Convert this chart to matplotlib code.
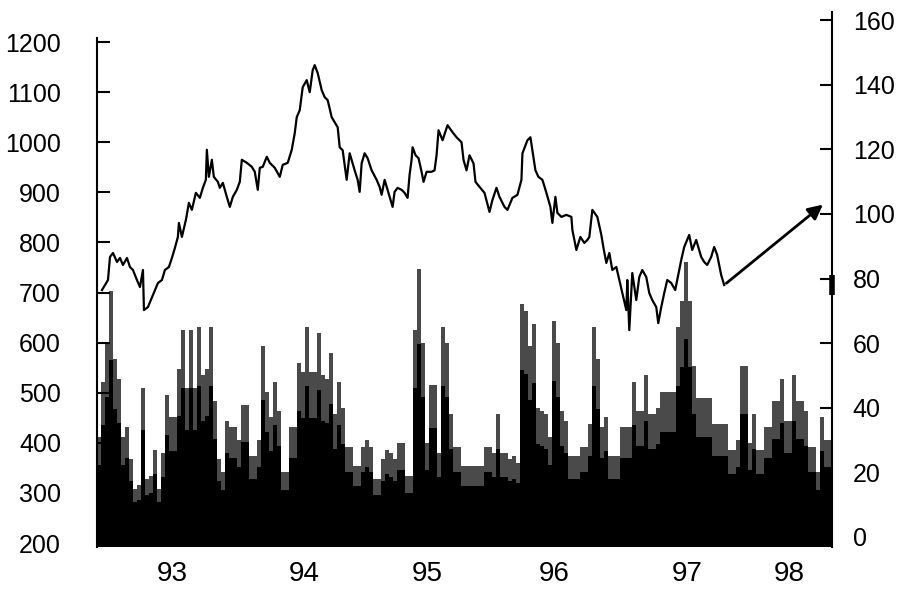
import numpy as np
import matplotlib
matplotlib.use("Agg")
import matplotlib.pyplot as plt

# x is an observation index (one step = one bar); year labels sit at these positions
year_labels = ["93", "94", "95", "96", "97", "98"]
year_pos = [18.75, 52, 82.75, 114.5, 147.75, 173.25]

# index level (left axis)
line_obs = [1.25, 2.75, 3.25, 4, 5, 5.75, 6.5, 7.5, 8.25, 9, 10, 10.75, 11.5, 11.75, 12.75,
            14, 15.25, 16.25, 17, 18, 18.75, 19.5, 20.25, 20.5, 21.25, 22.25, 23, 23.75, 24.75,
            25.75, 26.5, 27.25, 27.5, 28, 28.75, 29.25, 30.25, 30.75, 31.5, 32.5, 33.25, 34, 35,
            35.75, 36.25, 37.5, 38.75, 39.5, 40.25, 40.75, 41.5, 42.5, 43.25, 44.5, 45.75, 46.5,
            47.75, 48.75, 49.5, 50, 50.75, 51.5, 52.5, 53.25, 54, 54.5, 55.25, 56.25, 57, 57.75,
            58.75, 59.5, 60.25, 60.75, 61.5, 62.5, 63.25, 64.5, 65.25, 65.75, 66.25, 67, 67.75,
            68.75, 70, 70.75, 71.25, 72, 72.75, 74, 74.5, 75.25, 76.25, 77, 77.75, 78.25, 78.75,
            79, 79.75, 80.5, 81.25, 81.75, 82.5, 83.75, 84.5, 85, 85.5, 86.5, 87.75, 89, 90,
            91.25, 91.75, 92.5, 93.25, 94.25, 94.75, 95.75, 97, 98.25, 99, 100, 100.75, 102,
            102.75, 104, 105.25, 106.25, 106.5, 107.75, 108.5, 109, 109.75, 110.5, 111.5, 112.5,
            113.5, 114, 114.75, 115.25, 116.25, 117.5, 118.75, 119, 120, 121, 122, 122.75,
            123.25, 124, 125.25, 126.25, 126.75, 127.5, 128.25, 129, 130, 130.75, 131.5, 132.5,
            132.75, 133.25, 134, 135, 135.75, 136.5, 137.5, 138.25, 139, 140, 140.5, 141.25, 142,
            142.75, 143.75, 144.75, 145.25, 146.25, 147, 148.25, 149, 150, 151.25, 152, 152.75,
            153.75, 154.5, 155.25, 156.25, 157]
line_val = [705, 725, 771, 779, 761, 769, 755, 769, 751, 745, 725, 711, 745, 665, 671,
            695, 719, 725, 745, 751, 769, 789, 811, 839, 811, 845, 879, 865, 899,
            889, 909, 925, 985, 931, 965, 931, 921, 909, 919, 891, 871, 891, 905,
            921, 965, 959, 951, 941, 905, 949, 951, 971, 959, 949, 931, 955,
            959, 985, 1018, 1050, 1064, 1110, 1124, 1100, 1144, 1154, 1138, 1104, 1090, 1084,
            1050, 1040, 1030, 990, 984, 925, 978, 944, 925, 901, 958, 978, 968,
            944, 925, 911, 895, 925, 905, 871, 901, 909, 905, 899, 889, 935, 965,
            990, 974, 968, 941, 921, 941, 941, 944, 974, 1024, 1004, 1034, 1020, 1010,
            1000, 965, 944, 974, 958, 921, 911, 899, 861, 885, 909, 891, 871,
            865, 889, 895, 925, 978, 1004, 1010, 984, 944, 931, 925, 899,
            871, 839, 891, 859, 851, 855, 851, 825, 785, 811, 799, 805,
            811, 865, 851, 815, 791, 759, 779, 745, 751, 725, 699, 665,
            725, 625, 739, 685, 731, 745, 731, 699, 685, 671, 639, 671, 699,
            725, 719, 705, 725, 765, 791, 815, 785, 805, 771, 761, 755,
            771, 791, 775, 735, 715]

# projected level at the arrow tip
target_obs = 182.25
target_val = 879

# volume (right axis), one value per observation
volume = [31, 48, 60, 76, 55, 49, 31, 34, 24, 15, 16, 46, 18, 19, 27, 15, 26, 44, 37, 37,
          52, 64, 46, 64, 46, 65, 50, 52, 65, 42, 24, 20, 36, 34, 34, 30, 41, 41, 25, 25,
          30, 59, 45, 37, 48, 39, 20, 20, 34, 34, 54, 51, 65, 51, 51, 63, 50, 49, 57, 38,
          48, 40, 28, 28, 22, 22, 28, 30, 28, 18, 18, 24, 27, 26, 24, 29, 29, 19, 19, 64,
          83, 60, 29, 47, 47, 26, 65, 60, 38, 28, 28, 22, 22, 22, 22, 22, 22, 28, 28, 26,
          38, 26, 26, 24, 25, 23, 72, 70, 59, 66, 40, 39, 38, 31, 67, 60, 39, 36, 25, 25,
          25, 28, 28, 35, 65, 55, 34, 37, 25, 25, 25, 34, 34, 34, 48, 39, 39, 50, 38, 38,
          40, 45, 45, 45, 45, 65, 73, 85, 73, 53, 43, 43, 43, 43, 35, 35, 35, 35, 27, 27,
          30, 53, 53, 29, 38, 27, 27, 34, 34, 42, 42, 49, 36, 36, 50, 42, 42, 39, 28, 28,
          20, 37, 30, 30]

left_ticks = [200, 300, 400, 500, 600, 700, 800, 900, 1000, 1100, 1200]
right_ticks = [0, 20, 40, 60, 80, 100, 120, 140, 160]

font = ["Liberation Sans", "DejaVu Sans"]

fig = plt.figure(figsize=(8.99, 5.92), dpi=100)
ax = fig.add_axes([0.1079, 0.0760, 0.8176, 0.9037])
ax2 = ax.twinx()

# volume bars
vol = np.array(volume, dtype=float)
obs = np.arange(len(vol)) + 0.5
vmin, vmax = -3.1, 162.5
ax2.bar(obs, vol - vmin, bottom=vmin, width=1.0, color="#4a4a4a", linewidth=0)
ax2.bar(obs, vol * 0.72 - vmin, bottom=vmin, width=1.0, color="black", linewidth=0)
ax2.set_ylim(vmin, vmax)

# index line
ax.plot(line_obs, line_val, color="black", lw=1.6)
ax.annotate("", xy=(target_obs, target_val), xytext=(line_obs[-1], line_val[-1]),
            arrowprops=dict(arrowstyle="-|>", color="black", lw=2, mutation_scale=22))
ax.plot([len(vol)], [line_val[-1]], marker="|", ms=14, mew=4, color="black", clip_on=False)
ax.set_ylim(192, 1260)
ax.set_xlim(0, len(vol))

ax.set_zorder(ax2.get_zorder() + 1)
ax.patch.set_visible(False)

for a in (ax, ax2):
    a.spines["top"].set_visible(False)
    a.spines["bottom"].set_visible(False)
ax.spines["right"].set_visible(False)
ax2.spines["left"].set_visible(False)
ax.spines["left"].set_bounds(192, 1208)
ax.spines["left"].set_linewidth(1.5)
ax2.spines["right"].set_linewidth(1.5)

ax.set_yticks(left_ticks)
ax.set_yticklabels([str(t) for t in left_ticks], family=font, fontsize=18)
ax.tick_params(axis="y", direction="in", length=9, width=1.5, pad=26)
ax2.set_yticks(right_ticks)
ax2.set_yticklabels([str(t) for t in right_ticks], family=font, fontsize=18)
ax2.tick_params(axis="y", direction="in", length=9, width=1.5, pad=15)

ax.set_xticks(year_pos)
ax.set_xticklabels(year_labels, family=font, fontsize=20)
ax.tick_params(axis="x", length=0, pad=10)

fig.savefig("out.png", dpi=100)
